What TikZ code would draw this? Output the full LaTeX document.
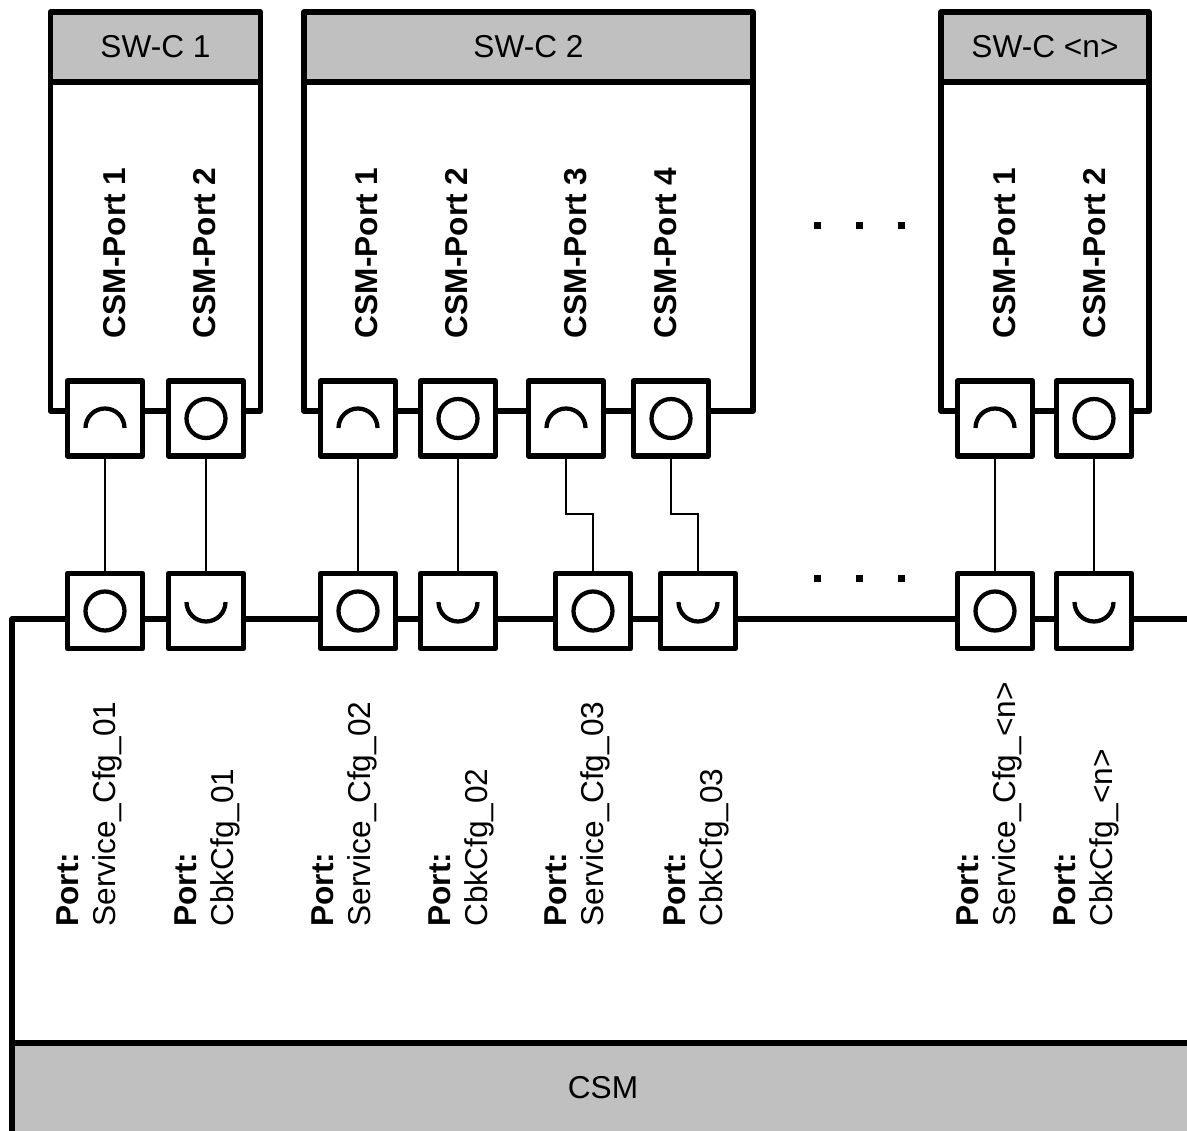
\documentclass[tikz,border=0pt]{standalone}
\usepackage{fontspec}
\setmainfont{Liberation Sans}
\definecolor{hdrgray}{RGB}{192,192,192}

\begin{document}
\begin{tikzpicture}[x=0.02cm,y=-0.02cm,
    frame/.style={line width=0.11cm,line join=round},
    hdr/.style={frame,fill=hdrgray},
    txt/.style={font=\fontsize{18pt}{21.3pt}\selectfont},
    portbox/.style={draw,frame,fill=white,minimum size=1.5cm,inner sep=0pt},
    portring/.style={portbox,path picture={
        \draw[sym] (path picture bounding box.center) circle[radius=0.39cm];}},
    portcap/.style={portbox,path picture={
        \draw[sym] ([shift={(0.39cm,-0.19cm)}]path picture bounding box.center)
          arc[start angle=0,end angle=180,radius=0.39cm];}},
    portcup/.style={portbox,path picture={
        \draw[sym] ([shift={(-0.39cm,0.18cm)}]path picture bounding box.center)
          arc[start angle=180,end angle=360,radius=0.39cm];}},
    sym/.style={line width=0.085cm},
    wire/.style={line width=0.03cm},
    portname/.style={txt,rotate=90,font=\fontsize{18pt}{21.3pt}\selectfont\bfseries},
    cfglabel/.style={txt,rotate=90,anchor=west,align=left,inner sep=0pt}]
    \useasboundingbox (0,0) rectangle (1187,1131);

    % CSM frame
    \draw[frame] (1200,619) -- (12,619) -- (12,1043);
    \draw[hdr] (12,1043) rectangle (1200,1140);
    \node[txt] (csm) at (603,1088) {CSM};

    % software components
    \foreach \c/\xl/\xr/\name in {1/50.5/260.5/{SW-C 1}, 2/304/753/{SW-C 2}, n/941/1149/{SW-C <n>}} {
      \draw[frame] (\xl,82) rectangle (\xr,411);
      \draw[hdr] (\xl,12) rectangle (\xr,82);
      \node[txt] (swc\c) at ({(\xl+\xr)/2},47) {\name};
    }

    % ports of the components
    \foreach \p/\x/\s in {a1/105/portcap, a2/206/portring, b1/358/portcap, b2/458/portring,
                          b3/566/portcap, b4/671/portring, n1/995/portcap, n2/1094/portring}
      \node[style=\s] (\p) at (\x,418.5) {};
    \foreach \n/\x/\t in {a1/115/1, a2/205/2, b1/367/1, b2/457/2, b3/576/3, b4/666/4, n1/1005/1, n2/1095/2}
      \node[portname] (lbl\n) at (\x,253) {CSM-Port \t};

    % ports of the CSM
    \foreach \p/\x/\s in {sa/105/portring, ca/206/portcup, sb/358/portring, cb/458/portcup,
                          sc/593/portring, cc/698/portcup, sn/995/portring, cn/1094/portcup}
      \node[style=\s] (\p) at (\x,611) {};
    \foreach \p/\x/\t in {sa/89.5/Service\_Cfg\_01, ca/207.5/CbkCfg\_01, sb/344.5/Service\_Cfg\_02,
                          cb/461.5/CbkCfg\_02, sc/577.5/Service\_Cfg\_03, cc/696.5/CbkCfg\_03,
                          sn/989.5/Service\_Cfg\_<n>, cn/1086.5/CbkCfg\_<n>}
      \node[cfglabel] (cfg\p) at (\x,927) {\textbf{Port:}\\\t};

    % connections
    \foreach \u/\l in {a1/sa, a2/ca, b1/sb, b2/cb, n1/sn, n2/cn}
      \draw[wire] (\u) -- (\l);
    \coordinate (jog) at (0,514);
    \draw[wire] (b3) -- (b3 |- jog) -| (sc);
    \draw[wire] (b4) -- (b4 |- jog) -| (cc);

    % dots
    \foreach \x in {817,859,901} {
      \fill (\x-3.5,222.5) rectangle ++(7,7);
      \fill (\x-3.5,575.5) rectangle ++(7,7);
    }
  \end{tikzpicture}
\end{document}
